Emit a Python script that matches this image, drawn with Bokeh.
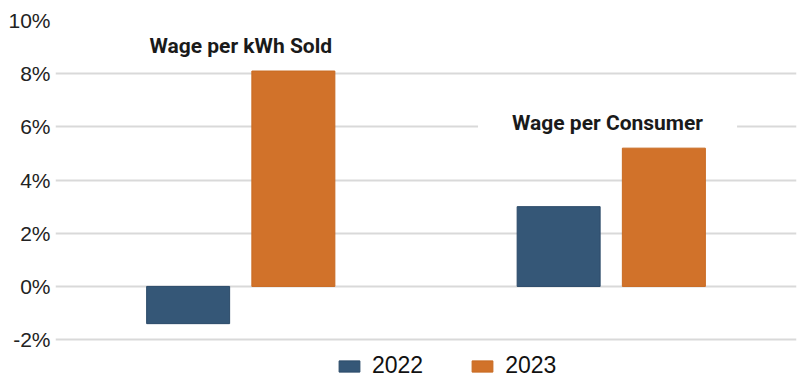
from bokeh.plotting import figure
from bokeh.models import ColumnDataSource, Legend, LegendItem, FactorRange, Label, CustomJSTickFormatter
from bokeh.transform import dodge
from bokeh.embed import file_html
from bokeh.resources import INLINE

categories = ["Wage per kWh Sold", "Wage per Consumer"]
values_2022 = [-1.4, 3.0]
values_2023 = [8.1, 5.2]
y_ticks = [-2, 0, 2, 4, 6, 8, 10]
label_y = [9.05, 6.13]

src = ColumnDataSource(dict(cat=categories, v22=values_2022, v23=values_2023))

p = figure(width=800, height=388, x_range=FactorRange(*categories), y_range=(-3.5, 10),
           output_backend="svg", toolbar_location=None,
           min_border_left=55, min_border_right=4, min_border_top=20, min_border_bottom=9)
p.outline_line_color = None
p.background_fill_color = "white"

blue = "#355777"
orange = "#d1722a"
r22 = p.vbar(x=dodge("cat", -0.142, range=p.x_range), top="v22", width=0.224, source=src,
             fill_color=blue, line_color="#2b4a68", line_width=1)
r23 = p.vbar(x=dodge("cat", 0.142, range=p.x_range), top="v23", width=0.224, source=src,
             fill_color=orange, line_color="#c86a22", line_width=1)

p.xaxis.visible = False
p.xgrid.grid_line_color = None
p.ygrid.grid_line_color = "#d9d9d9"
p.ygrid.grid_line_width = 2
p.yaxis.ticker = y_ticks
p.yaxis.formatter = CustomJSTickFormatter(code="return tick + '%';")
p.yaxis.axis_line_color = None
p.yaxis.major_tick_line_color = None
p.yaxis.minor_tick_line_color = None
p.yaxis.major_tick_out = 0
p.yaxis.major_tick_in = 0
p.yaxis.major_label_text_font = "Liberation Sans"
p.yaxis.major_label_text_font_size = "21px"
p.yaxis.major_label_text_color = "#222222"
p.yaxis.major_label_standoff = 5

for i, (cat, yv) in enumerate(zip(categories, label_y)):
    lab = Label(x=i + 0.5 - 0.01 * i, y=yv, text=cat, text_font="Roboto",
                text_font_style="bold", text_font_size="21px", text_color="#1a1a1a",
                text_align="center", text_baseline="middle",
                background_fill_color="white", border_line_color=None,
                padding=(34, 3))
    p.add_layout(lab)

legend = Legend(items=[LegendItem(label="2022", renderers=[r22]),
                       LegendItem(label="2023", renderers=[r23])],
                orientation="horizontal", location=(281, 0),
                label_text_font="Liberation Sans", label_text_font_size="23px",
                label_text_color="#111111",
                glyph_width=26, glyph_height=14, label_standoff=10, spacing=46,
                padding=0, margin=0, border_line_color=None, background_fill_alpha=0)
p.add_layout(legend, "center")

open("out.html", "w").write(file_html(p, INLINE))
